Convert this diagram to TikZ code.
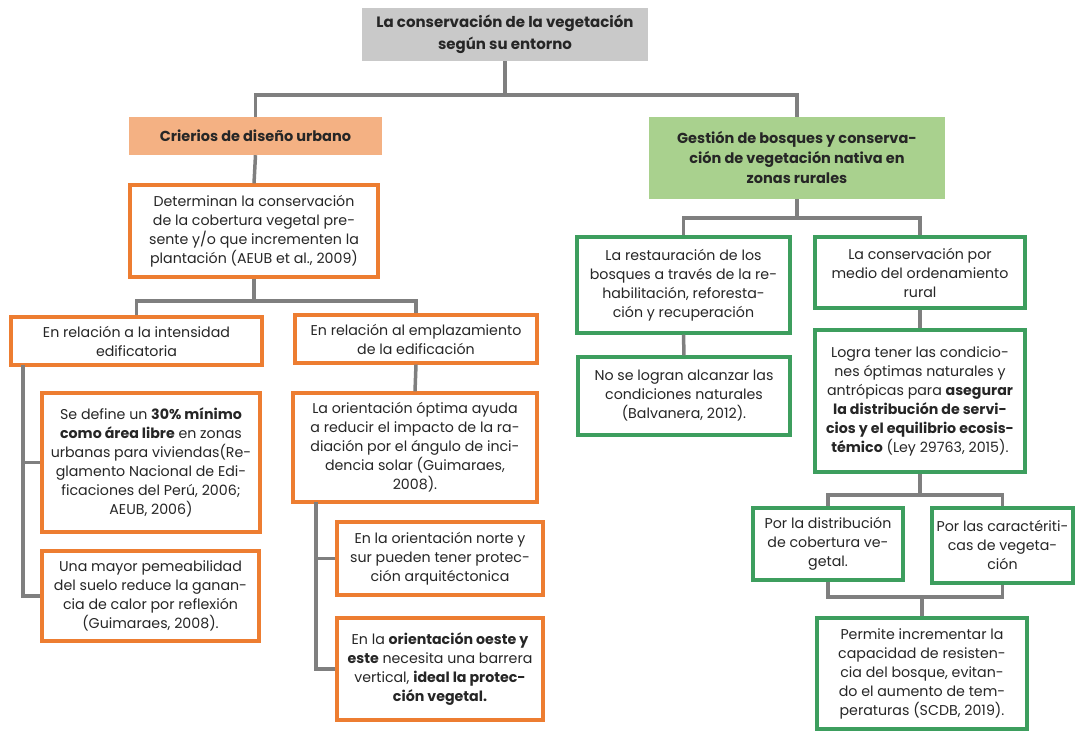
\documentclass[tikz,border=0pt]{standalone}
\usepackage{fontspec}
\setmainfont{Poppins}
\definecolor{oborder}{HTML}{ED7D31}
\definecolor{ofill}{HTML}{F4B183}
\definecolor{gborder}{HTML}{3D9E5E}
\definecolor{gfill}{HTML}{A9D18E}
\definecolor{tfill}{HTML}{C9C9C9}
\definecolor{cline}{HTML}{7F7F7F}
\tikzset{
  bx/.style={rectangle, inner sep=0pt, align=center, font=\fontsize{14.2}{19}\selectfont, text=black!85},
  obox/.style={bx, draw=oborder, line width=3.2pt, fill=white},
  gbox/.style={bx, draw=gborder, line width=3.2pt, fill=white},
  ohead/.style={bx, fill=ofill, font=\bfseries\fontsize{14.5}{19}\selectfont},
  ghead/.style={bx, fill=gfill, font=\bfseries\fontsize{14.5}{20}\selectfont},
  thead/.style={bx, fill=tfill, font=\bfseries\fontsize{15}{21.5}\selectfont},
  conn/.style={draw=cline, line width=3.5pt}
}
\newcommand{\bxat}[6]{% style, name, x1, y1, x2, y2
  \node[#1, minimum width={#5-#3}, minimum height={#6-#4}] (#2) at ({(#3+#5)/2},{(#4+#6)/2})}
\begin{document}
\begin{tikzpicture}[x=1pt,y=-1pt]
\useasboundingbox (0,0) rectangle (1076,731);
% junction coordinates
\coordinate (jt) at (0,95);
\coordinate (jl) at (0,301);
\coordinate (jr) at (0,218);
\coordinate (jd) at (0,495);
\coordinate (jp) at (0,597);
\coordinate (lv) at (23,365);
\coordinate (mv) at (316,502);
% nodes
\bxat{thead}{title}{362}{8}{648}{61}{La conservación de la vegetación\\según su entorno};
\bxat{ohead}{crit}{129}{117}{382}{155}{Crierios de diseño urbano};
\bxat{ghead}{gest}{649}{117}{945}{199}{Gestión de bosques y conserva-\\ción de vegetación nativa en\\zonas rurales};
\bxat{obox}{def}{130}{185}{378}{277}{Determinan la conservación\\de la cobertura vegetal pre-\\sente y/o que incrementen la\\plantación (AEUB et al., 2009)};
\bxat{obox}{intens}{11}{317}{262}{365}{En relación a la intensidad\\edificatoria};
\bxat{obox}{empl}{295}{315}{537}{363}{En relación al emplazamiento\\de la edificación};
\bxat{obox}{sedef}{42}{393}{260}{532}{Se define un \textbf{30\% mínimo}\\\textbf{como área libre} en zonas\\urbanas para viviendas(Re-\\glamento Nacional de Edi-\\ficaciones del Perú, 2006;\\AEUB, 2006)};
\bxat{obox}{mayor}{42}{551}{259}{641}{Una mayor pemeabilidad\\del suelo reduce la ganan-\\cia de calor por reflexión\\(Guimaraes, 2008).};
\bxat{obox}{orient}{293}{393}{537}{502}{La orientación óptima ayuda\\a reducir el impacto de la ra-\\diación por el ángulo de inci-\\dencia solar (Guimaraes,\\2008).};
\bxat{obox}{norte}{337}{522}{543}{595}{En la orientación norte y\\sur pueden tener protec-\\ción arquitéctonica};
\bxat{obox}{oeste}{337}{618}{543}{720}{En la \textbf{orientación oeste y}\\\textbf{este} necesita una barrera\\vertical, \textbf{ideal la protec-}\\\textbf{ción vegetal.}};
\bxat{gbox}{rest}{577}{237}{790}{333}{La restauración de los\\bosques a través de la re-\\habilitación, reforesta-\\ción y recuperación};
\bxat{gbox}{cons}{815}{237}{1025}{308}{La conservación por\\medio del ordenamiento\\rural};
\bxat{gbox}{nose}{578}{357}{790}{435}{No se logran alcanzar las\\condiciones naturales\\(Balvanera, 2012).};
\bxat{gbox}{logra}{815}{330}{1025}{472}{Logra tener las condicio-\\nes óptimas naturales y\\antrópicas para \textbf{asegurar}\\\textbf{la distribución de servi-}\\\textbf{cios y el equilibrio ecosis-}\\\textbf{témico} (Ley 29763, 2015).};
\bxat{gbox}{distr}{753}{508}{903}{580}{Por la distribución\\de cobertura ve-\\getal.};
\bxat{gbox}{caract}{932}{508}{1073}{583}{Por las caractériti-\\cas de vegeta-\\ción};
\bxat{gbox}{permite}{817}{618}{1027}{729}{Permite incrementar la\\capacidad de resisten-\\cia del bosque, evitan-\\do el aumento de tem-\\peraturas (SCDB, 2019).};
% connectors
\draw[conn] (title.south) -- (title.south |- jt);
\draw[conn] (crit.north) -- (crit.north |- jt) -- (gest.north |- jt) -- (gest.north);
\draw[conn] (crit.south) -- (def.north);
\draw[conn] (def.south) -- (def.south |- jl);
\draw[conn] (intens.north) -- (intens.north |- jl) -- (empl.north |- jl) -- (empl.north);
\draw[conn] (lv) |- (sedef.west);
\draw[conn] (lv) |- (mayor.west);
\draw[conn] (empl.south) -- (orient.north);
\draw[conn] (mv) |- (norte.west);
\draw[conn] (mv) |- (oeste.west);
\draw[conn] (gest.south) -- (gest.south |- jr);
\draw[conn] (rest.north) -- (rest.north |- jr) -- (cons.north |- jr) -- (cons.north);
\draw[conn] (rest.south) -- (nose.north);
\draw[conn] (cons.south) -- (logra.north);
\draw[conn] (logra.south) -- (logra.south |- jd);
\draw[conn] (distr.north) -- (distr.north |- jd) -- (caract.north |- jd) -- (caract.north);
\draw[conn] (distr.south) -- (distr.south |- jp) -- (caract.south |- jp) -- (caract.south);
\draw[conn] (permite.north) -- (permite.north |- jp);
\end{tikzpicture}
\end{document}
